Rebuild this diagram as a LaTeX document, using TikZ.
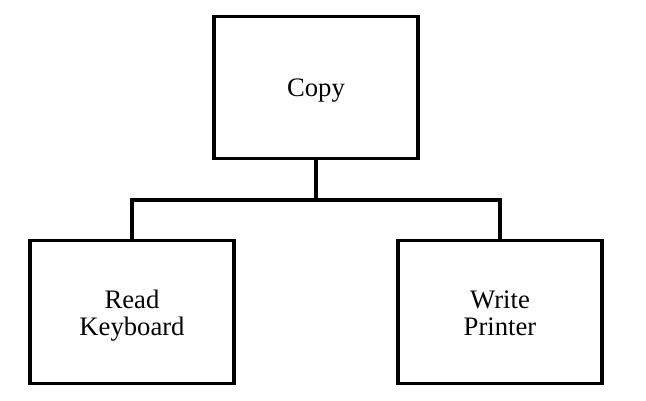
\documentclass[tikz,border=0pt]{standalone}
\usepackage{fontspec}
\setmainfont{Liberation Serif}
\begin{document}
\begin{tikzpicture}
        [x=0.75pt, y=-0.75pt,
        box/.style={draw, line width=2.3pt, rectangle, minimum width=153pt, minimum height=107pt, align=center,
          font=\fontsize{20}{20.5}\selectfont, text height=20pt, text depth=6pt},
        twoline/.style={text height=40pt, text depth=4.4pt},
        edge/.style={line width=2.3pt, black}]

        \useasboundingbox (0,0) rectangle (646,400);

        \node[box] (copy) at (316,87.5) {Copy};
        \node[box, twoline] (read) at (132,312) {Read\\Keyboard};
        \node[box, twoline] (write) at (500,312) {Write\\Printer};

        % junction below the top box
        \coordinate (bus) at (316,200);

        % tree edges
        \draw[edge] (copy.south) -- (bus);
        \draw[edge] (read.north) |- (bus) -| (write.north);

        \end{tikzpicture}
\end{document}
